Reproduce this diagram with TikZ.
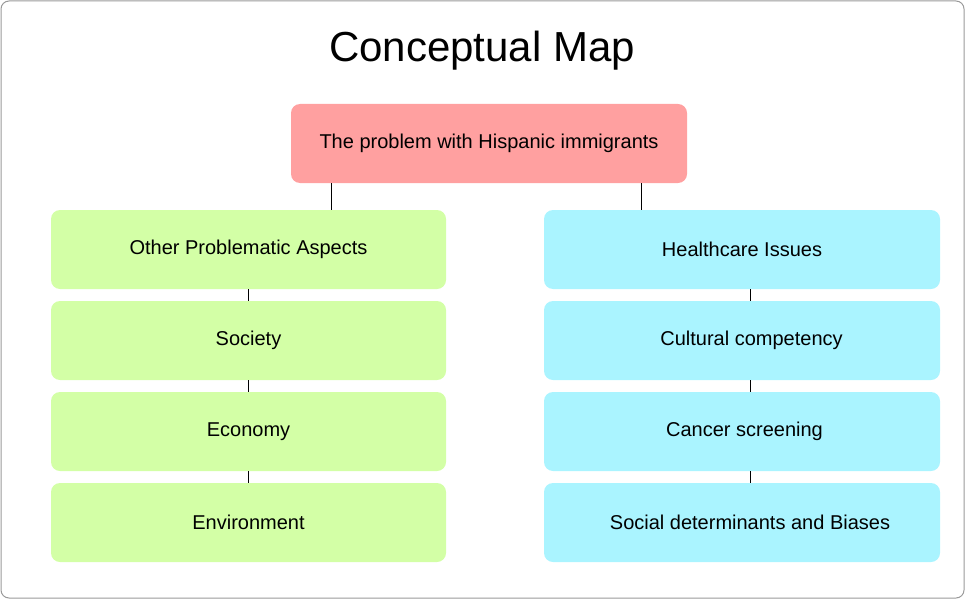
\documentclass[tikz,border=0pt]{standalone}
\usepackage{fontspec}
\setmainfont{Liberation Sans}
\definecolor{toppink}{HTML}{FFA0A0}
\definecolor{leftgreen}{HTML}{D3FFA6}
\definecolor{rightcyan}{HTML}{AAF4FF}
\begin{document}
\begin{tikzpicture}[x=1pt,y=-1pt,
  box/.style={rounded corners=9pt,minimum width=395pt,minimum height=79pt,
    inner sep=0pt,font=\fontsize{20}{24}\selectfont},
  link/.style={draw=black,line width=0.8pt}]
%\draw[color=gray!20] (0,0) grid (965,599);
\useasboundingbox (0,0) rectangle (965,599);
\draw[gray!80,line width=1pt,rounded corners=8pt] (1,1) rectangle (964,598);

\node[font=\fontsize{42}{48}\selectfont] (title) at (482,51) {Conceptual Map};

\node[box,fill=toppink,minimum width=396pt] (prob) at (489,143.5) {\raisebox{-1.5pt}{The problem with Hispanic immigrants}};

% left column
\node[box,fill=leftgreen] (other) at (248.5,249.5) {\raisebox{-1.5pt}{Other Problematic Aspects}};
\node[box,fill=leftgreen] (soc)   at (248.5,340.5) {\raisebox{-1.5pt}{Society}};
\node[box,fill=leftgreen] (eco)   at (248.5,431.5) {\raisebox{-1.5pt}{Economy}};
\node[box,fill=leftgreen] (env)   at (248.5,522.5) {\raisebox{-1.5pt}{Environment}};

% right column
\node[box,fill=rightcyan,minimum width=396pt] (health) at (742,249.5) {\raisebox{-1.5pt}{Healthcare Issues}};
\node[box,fill=rightcyan,minimum width=396pt] (cult)   at (742,340.5) {\hspace{19pt}\raisebox{-1.5pt}{Cultural competency}};
\node[box,fill=rightcyan,minimum width=396pt] (canc)   at (742,431.5) {\hspace{5pt}\raisebox{-1.5pt}{Cancer screening}};
\node[box,fill=rightcyan,minimum width=396pt] (sdet)   at (742,522.5) {\hspace{16pt}\raisebox{-1.5pt}{Social determinants and Biases}};

\coordinate (pl) at ([xshift=41pt]prob.south west);
\coordinate (pr) at ([xshift=351pt]prob.south west);
\draw[link] (pl) -- (pl |- other.north);
\draw[link] (pr) -- (pr |- health.north);

\draw[link] (other) -- (soc);
\draw[link] (soc) -- (eco);
\draw[link] (eco) -- (env);
\draw[link] ([xshift=8pt]health.south) -- ([xshift=8pt]cult.north);
\draw[link] ([xshift=8pt]cult.south) -- ([xshift=8pt]canc.north);
\draw[link] ([xshift=8pt]canc.south) -- ([xshift=8pt]sdet.north);
\end{tikzpicture}
\end{document}
